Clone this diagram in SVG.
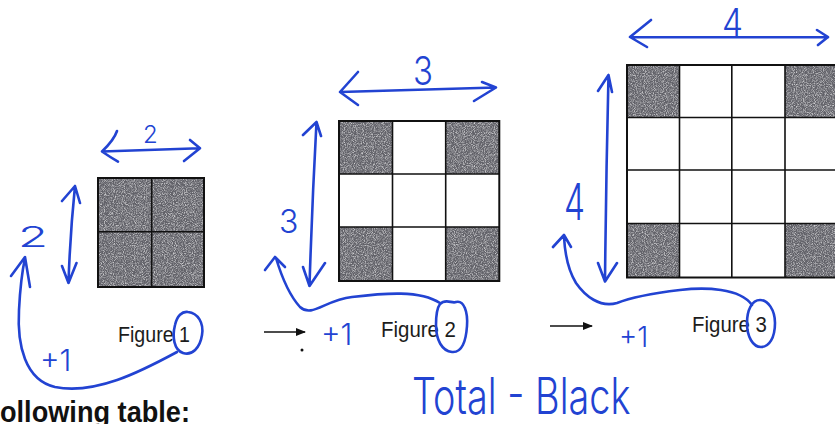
<svg xmlns="http://www.w3.org/2000/svg" width="835" height="424" viewBox="0 0 835 424">
<defs>
<style>
.sh{fill:#626269}
.gl{stroke:#111;stroke-width:1.6;fill:none}
.ob{stroke:#111;stroke-width:2;fill:none}
.ink{stroke:#2243d2;stroke-width:2.6;fill:none;stroke-linecap:round;stroke-linejoin:round}
.hw{fill:#2243d2;font-family:Inter,"Liberation Sans",sans-serif;font-weight:300}
.fig{fill:#1c1c1c;font-family:"Liberation Sans",Arial,sans-serif;font-size:22px}
.blk{stroke:#111;stroke-width:1.5;fill:none}
</style>
<filter id="speck" x="0" y="0" width="1" height="1">
<feTurbulence type="fractalNoise" baseFrequency="1.1" numOctaves="1" seed="4"/>
<feColorMatrix type="matrix" values="0 0 0 0 1  0 0 0 0 1  0 0 0 0 1  1.8 0 0 0 -0.75"/>
<feComposite in2="SourceGraphic" operator="in"/>
</filter>
<marker id="ah" viewBox="0 0 10 10" refX="9" refY="5" markerWidth="7" markerHeight="7" orient="auto">
<path d="M0,1 L10,5 L0,9 Z" fill="#111"/>
</marker>
</defs>
<rect width="835" height="424" fill="#fff"/>

<g id="figure1">
<rect class="sh" x="98" y="178" width="106" height="109"/>
<rect x="98" y="178" width="106" height="109" filter="url(#speck)"/>
<path class="gl" d="M151.7,178V287M98,231.7H204"/>
<rect class="ob" x="98" y="178" width="106" height="109"/>
<text class="fig" x="118" y="342" textLength="72" lengthAdjust="spacingAndGlyphs">Figure 1</text>
</g>

<g id="figure2">
<rect class="sh" x="339" y="121" width="53.5" height="53"/>
<rect class="sh" x="445.7" y="121" width="53.5" height="53"/>
<rect class="sh" x="339" y="227" width="53.5" height="54"/>
<rect class="sh" x="445.7" y="227" width="53.5" height="54"/>
<rect x="339" y="121" width="53.5" height="53" filter="url(#speck)"/>
<rect x="445.7" y="121" width="53.5" height="53" filter="url(#speck)"/>
<rect x="339" y="227" width="53.5" height="54" filter="url(#speck)"/>
<rect x="445.7" y="227" width="53.5" height="54" filter="url(#speck)"/>
<path class="gl" d="M392.5,121V281M445.7,121V281M339,174H499.3M339,227H499.3"/>
<rect class="ob" x="339" y="121" width="160.3" height="160"/>
<text class="fig" x="381" y="337" textLength="75" lengthAdjust="spacingAndGlyphs">Figure 2</text>
</g>

<g id="figure3">
<rect class="sh" x="627" y="65" width="52.5" height="52.5"/>
<rect class="sh" x="785" y="65" width="55" height="52.5"/>
<rect class="sh" x="627" y="223.5" width="52.5" height="54"/>
<rect class="sh" x="785" y="223.5" width="55" height="54"/>
<rect x="627" y="65" width="52.5" height="52.5" filter="url(#speck)"/>
<rect x="785" y="65" width="55" height="52.5" filter="url(#speck)"/>
<rect x="627" y="223.5" width="52.5" height="54" filter="url(#speck)"/>
<rect x="785" y="223.5" width="55" height="54" filter="url(#speck)"/>
<path class="gl" d="M679.5,65V277.5M731.8,65V277.5M785,65V277.5M627,117.5H840M627,170H840M627,223.5H840"/>
<rect class="ob" x="627" y="65" width="215" height="212.5"/>
<text class="fig" x="692" y="332" textLength="75" lengthAdjust="spacingAndGlyphs">Figure 3</text>
</g>

<g id="connectors">
<line class="blk" x1="264" y1="332" x2="305" y2="332" marker-end="url(#ah)"/>
<circle cx="302" cy="350" r="1.5" fill="#111"/>
<line class="blk" x1="550" y1="326" x2="592" y2="326" marker-end="url(#ah)"/>
</g>

<g id="annotations1">
<path class="ink" d="M102,151.5L200,148.3M117,131Q114,140 102,151.5Q110,157 118,161.7M190,140L200,148.3L184,161"/>
<path class="ink" d="M75,186Q70,235 68.5,283M62,201L75,186L80,203M62,266L68.5,283L76.5,263"/>
<path class="ink" d="M188,312C198,313 204,323 202,335C200,348 192,356 183,353C174,350 172,337 175,325C177,316 182,311 188,312Z"/>
<path class="ink" d="M177,352C140,372 95,395 55,387C25,380 17,345 19,310C20,290 22,272 25,258M11,276L25,257L30,287"/>
<text class="hw" x="143" y="143" font-size="24">2</text>
<text class="hw" x="18" y="247" font-size="28" textLength="30" lengthAdjust="spacingAndGlyphs">2</text>
<text class="hw" x="40" y="371" font-size="30">+1</text>
</g>

<g id="annotations2">
<path class="ink" d="M340,92L496,87.5M358,72L340,92L358,105M482,82L496,87.5L474,101"/>
<path class="ink" d="M316.5,122Q312,205 309.5,286M303,135L316.5,122L321,136M303,267L309.5,286L325,263"/>
<path class="ink" d="M440,304C446,298 452,304 456,302C464,300 468,312 467,326C466,341 462,353 452,352C442,351 436,340 436,325C436,315 437,308 440,304Z"/>
<path class="ink" d="M440,303C420,290 385,293 352,297C325,300 312,318 300,307C290,296 282,278 276,258M265,270L275,257L285,267"/>
<text class="hw" x="413" y="85" font-size="40" textLength="20" lengthAdjust="spacingAndGlyphs">3</text>
<text class="hw" x="279" y="233" font-size="32">3</text>
<text class="hw" x="321" y="345" font-size="30">+1</text>
</g>

<g id="annotations3">
<path class="ink" d="M630,37L828,37.3M651,20L630,37L647,47M817,30L828,37L818,45"/>
<path class="ink" d="M608.5,75Q606,180 605,281M598,91L608.5,75L612,92M598,263L605,281.5L617,263"/>
<path class="ink" d="M760,300C768,300 775,310 775,323C775,338 769,347 761,347C753,347 747,337 747,323C747,310 752,300 760,300Z"/>
<path class="ink" d="M752,305C740,288 705,287 680,290C655,293 632,297 617,303C600,308 585,296 576,283C568,270 565,255 564,237M553,247L564,235L571,247"/>
<text class="hw" x="722" y="36" font-size="38" textLength="21" lengthAdjust="spacingAndGlyphs">4</text>
<text class="hw" x="564" y="220" font-size="50" textLength="21" lengthAdjust="spacingAndGlyphs">4</text>
<text class="hw" x="619" y="347" font-size="28">+1</text>
</g>

<text class="hw" font-size="50" transform="translate(412,414) scale(0.757,1)">Total - Black</text>
<text x="0" y="422" font-family="'Liberation Sans',Arial,sans-serif" font-weight="bold" font-size="29" textLength="190" lengthAdjust="spacingAndGlyphs" fill="#111">ollowing table:</text>
</svg>
